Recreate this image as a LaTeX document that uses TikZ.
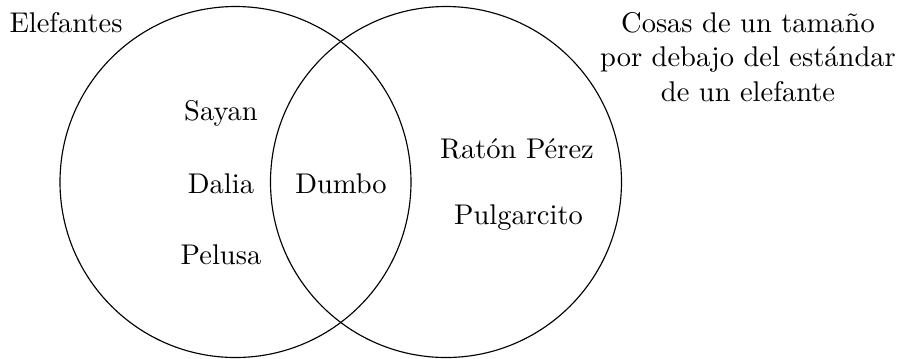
\documentclass[tikz,border=0pt]{standalone}
\usepackage{fontspec}
\begin{document}
\begin{tikzpicture}[x=0.3509pt,y=-0.3509pt,
  setline/.style={draw=black,line width=0.4pt},
  lbl/.style={inner sep=0pt,anchor=base,font=\fontsize{10}{12}\selectfont}]
\useasboundingbox (0,0) rectangle (902,358);
\draw[setline] (235.5,182) circle [radius=175.5*0.3509pt];
\draw[setline] (446,182) circle [radius=175.5*0.3509pt];
\node[lbl] (elef) at (66,32) {Elefantes};
\node[lbl,align=center] (cosas) at (748,101) {Cosas de un tamaño\\por debajo del estándar\\de un elefante};
\node[lbl] (sayan) at (221,120) {Sayan};
\node[lbl] (dalia) at (221,193) {Dalia};
\node[lbl] (pelusa) at (221,264.5) {Pelusa};
\node[lbl] (dumbo) at (341,193) {Dumbo};
\node[lbl] (raton) at (517,158) {Ratón Pérez};
\node[lbl] (pulg) at (518.5,224.5) {Pulgarcito};
\end{tikzpicture}
\end{document}
